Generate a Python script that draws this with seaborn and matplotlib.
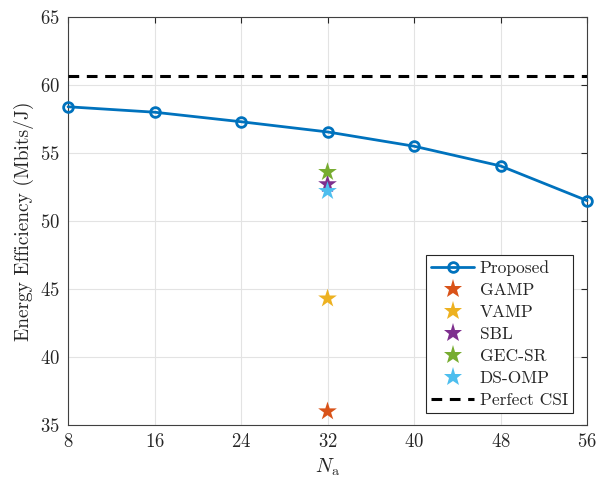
import numpy as np
import pandas as pd
import matplotlib
matplotlib.use('Agg')
import matplotlib.pyplot as plt
import seaborn as sns

# data
n_a = [8, 16, 24, 32, 40, 48, 56]
proposed = [58.4, 58.0, 57.3, 56.55, 55.5, 54.05, 51.5]
perfect_csi = 60.65

baselines = ['GAMP', 'VAMP', 'SBL', 'GEC-SR', 'DS-OMP']
baseline_x = [32, 32, 32, 32, 32]
baseline_ee = [36.0, 44.3, 52.7, 53.6, 52.2]
baseline_colors = ['#D95319', '#EDB120', '#7E2F8E', '#77AC30', '#4DBEEE']

x_ticks = [8, 16, 24, 32, 40, 48, 56]
y_ticks = [35, 40, 45, 50, 55, 60, 65]

sns.set_style('whitegrid')
plt.rcParams['font.family'] = ['cmr10', 'DejaVu Serif']
plt.rcParams['mathtext.fontset'] = 'cm'
plt.rcParams['axes.formatter.use_mathtext'] = True

fig = plt.figure(figsize=(6.03, 4.79), dpi=100)
ax = fig.add_axes([0.1128, 0.1127, 0.8607, 0.8518])

prop_df = pd.DataFrame({'Na': n_a, 'EE': proposed})
sns.lineplot(data=prop_df, x='Na', y='EE', ax=ax, color='#0072BD', linewidth=2.0,
             marker='o', markersize=7, markerfacecolor='none', markeredgecolor='#0072BD',
             markeredgewidth=2.0, label='Proposed', zorder=3, clip_on=False)

base_df = pd.DataFrame({'Na': baseline_x, 'EE': baseline_ee, 'Method': baselines})
sns.scatterplot(data=base_df, x='Na', y='EE', hue='Method', hue_order=baselines,
                palette=baseline_colors, marker='*', s=200, linewidth=0, ax=ax, zorder=4)

ax.axhline(perfect_csi, color='black', linestyle=(0, (3.5, 2.5)), linewidth=2.2,
           label='Perfect CSI', zorder=3)

ax.set_xlim(8, 56)
ax.set_ylim(35, 65)
ax.set_xticks(x_ticks)
ax.set_yticks(y_ticks)
ax.set_xlabel(r'$N_\mathrm{a}$', fontsize=14.5)
ax.set_ylabel('Energy Efficiency (Mbits/J)', fontsize=14)
ax.tick_params(direction='in', length=4, width=0.8, labelsize=13.5, colors='#262626',
               top=True, right=True, labelcolor='#262626', pad=6)
ax.grid(True, color='#e3e3e3', linewidth=0.8)
for s in ax.spines.values():
    s.set_color('#404040')
    s.set_linewidth(0.8)

handles, labels = ax.get_legend_handles_labels()
order = ['Proposed'] + baselines + ['Perfect CSI']
hmap = dict(zip(labels, handles))
leg = ax.legend([hmap[k] for k in order], order, loc='lower right', fontsize=12.5,
                frameon=True, fancybox=False, edgecolor='#262626', framealpha=1,
                borderpad=0.3, labelspacing=0.38, handlelength=2.5, handletextpad=0.3,
                borderaxespad=0, bbox_to_anchor=(0.973, 0.029))
leg.get_frame().set_linewidth(0.8)

fig.savefig('out.png', dpi=100)
